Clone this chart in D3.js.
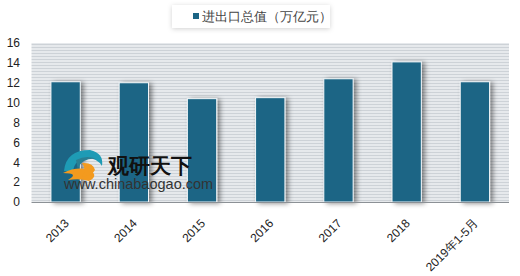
<!DOCTYPE html>
<html>
<head>
<meta charset="utf-8">
<script src="https://cdn.jsdelivr.net/npm/d3@7"></script>
<style>
  body { margin: 0; background: #fff; }
  text { font-family: "Liberation Sans", Arial, sans-serif; }
</style>
</head>
<body>
<script>
const categories = ["2013", "2014", "2015", "2016", "2017", "2018", "2019年1-5月"];
const values = [12.1, 12.0, 10.4, 10.5, 12.4, 14.1, 12.1];
const yTicks = [0, 2, 4, 6, 8, 10, 12, 14, 16];
const seriesName = "进出口总值（万亿元）";

const W = 520, H = 276;
const svg = d3.select("body").append("svg")
    .attr("width", W)
    .attr("height", H);

const defs = svg.append("defs");

// striped plot background
const pat = defs.append("pattern")
    .attr("id", "stripes")
    .attr("width", 4).attr("height", 3)
    .attr("patternUnits", "userSpaceOnUse");
pat.append("rect").attr("width", 4).attr("height", 3).attr("fill", "#e6e9ec");
pat.append("rect").attr("y", 2).attr("width", 4).attr("height", 1).attr("fill", "#cdd2d7");

const shadow = defs.append("filter").attr("id", "shadow")
    .attr("x", "-30%").attr("y", "-10%").attr("width", "180%").attr("height", "130%");
shadow.append("feDropShadow")
    .attr("dx", 3).attr("dy", 1).attr("stdDeviation", 2.5)
    .attr("flood-color", "#000").attr("flood-opacity", 0.45);

const boxShadow = defs.append("filter").attr("id", "boxShadow")
    .attr("x", "-10%").attr("y", "-30%").attr("width", "120%").attr("height", "170%");
boxShadow.append("feDropShadow")
    .attr("dx", 0).attr("dy", 1).attr("stdDeviation", 2.5)
    .attr("flood-color", "#000").attr("flood-opacity", 0.18);

const x = d3.scaleBand()
    .domain(categories)
    .range([31.5, 509])
    .paddingInner(0.57)
    .paddingOuter(0.285);

const y = d3.scaleLinear()
    .domain([0, 16])
    .range([202, 43]);

// plot area
svg.append("rect")
    .attr("x", 31.5).attr("y", y(16))
    .attr("width", 509 - 31.5).attr("height", y(0) - y(16))
    .attr("fill", "url(#stripes)");

// bars
svg.append("g")
    .selectAll("rect")
    .data(values)
    .join("rect")
    .attr("x", (d, i) => x(categories[i]))
    .attr("y", d => y(d))
    .attr("width", x.bandwidth())
    .attr("height", d => y(0) - y(d))
    .attr("fill", "#1b6585")
    .attr("stroke", "#f4f7f9")
    .attr("stroke-width", 1)
    .attr("filter", "url(#shadow)");

// watermark (logo + site name) sits over the bars
const wm = svg.append("g").attr("class", "watermark");
wm.append("path")
    .attr("d", "M64,171 Q66,150 90,150 Q104,153 102,166 Q97,158 87,158 Q75,159 73,171 Z")
    .attr("fill", "#1e9bb5");
wm.append("path")
    .attr("d", "M76,160 Q88,154 98,160 Q92,157 84,161 Q79,164 78,170 Z")
    .attr("fill", "#2a7f93");
wm.append("path")
    .attr("d", "M63,173 Q77,166 90,170 Q99,176 89,181 Q80,178 68,180 Q80,173 63,173 Z")
    .attr("fill", "#f39a1e");
wm.append("path")
    .attr("d", "M82,163 Q93,162 95,170 Q91,177 82,176 Q87,170 82,163 Z")
    .attr("fill", "#f39a1e");
wm.append("text")
    .attr("x", 108).attr("y", 173)
    .attr("font-family", "Noto Sans CJK SC")
    .attr("font-size", 21).attr("font-weight", "bold")
    .attr("fill", "#111")
    .text("观研天下");
wm.append("text")
    .attr("x", 64).attr("y", 189)
    .attr("font-size", 14.5)
    .attr("fill", "#333")
    .text("www.chinabaogao.com");

// x axis line
svg.append("line")
    .attr("x1", 31.5).attr("x2", 509)
    .attr("y1", y(0) + 0.5).attr("y2", y(0) + 0.5)
    .attr("stroke", "#8c9196");

// y axis labels
const yAxis = d3.axisLeft(y).tickValues(yTicks).tickSize(0).tickPadding(0);
const gy = svg.append("g")
    .attr("transform", "translate(20,0)")
    .call(yAxis);
gy.select(".domain").remove();
gy.selectAll("text")
    .attr("font-size", 12)
    .attr("fill", "#222")
    .attr("font-family", "Liberation Sans, Arial, sans-serif");

// x axis labels
const xAxis = d3.axisBottom(x).tickSize(0).tickPadding(0);
const gx = svg.append("g")
    .attr("transform", `translate(0,${y(0)})`)
    .call(xAxis);
gx.select(".domain").remove();
gx.selectAll("text")
    .attr("font-size", 12)
    .attr("fill", "#222")
    .attr("font-family", "Liberation Sans, Noto Sans CJK SC, sans-serif")
    .attr("text-anchor", "end")
    .attr("dy", 0)
    .attr("transform", "translate(4,22) rotate(-45)");

// legend
const lg = svg.append("g");
lg.append("rect")
    .attr("x", 172).attr("y", 5)
    .attr("width", 158).attr("height", 23)
    .attr("fill", "#fff")
    .attr("filter", "url(#boxShadow)");
lg.append("rect")
    .attr("x", 193).attr("y", 13)
    .attr("width", 6).attr("height", 6)
    .attr("fill", "#1b6585");
lg.append("text")
    .attr("x", 202).attr("y", 21)
    .attr("font-family", "Noto Sans CJK SC")
    .attr("font-size", 12.5)
    .attr("fill", "#444")
    .text(seriesName);
</script>
</body>
</html>
